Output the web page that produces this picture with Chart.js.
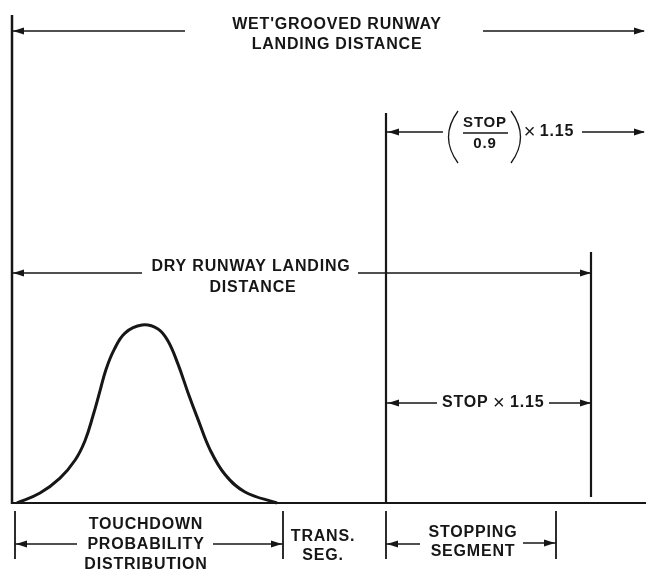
<!DOCTYPE html>
<html>
<head>
<meta charset="utf-8">
<script src="https://cdn.jsdelivr.net/npm/chart.js@4"></script>
<style>
  html, body { margin: 0; padding: 0; background: #fff; }
</style>
</head>
<body>
<canvas id="runway" width="646" height="575"></canvas>
<script>
// Distances measured from the runway threshold (left vertical line)
const curveDist = [5, 28, 48, 63, 73, 81, 88, 94, 102, 113, 130, 146, 156, 166, 176, 186, 198, 213, 233, 265];
const curveProb = [0, 0.056, 0.14, 0.24, 0.35, 0.49, 0.63, 0.75, 0.86, 0.955, 1.0, 0.978, 0.91, 0.78, 0.62, 0.47, 0.30, 0.16, 0.062, 0];

const segmentNames = [['TOUCHDOWN', 'PROBABILITY', 'DISTRIBUTION'], ['TRANS.', 'SEG.'], ['STOPPING', 'SEGMENT']];
const segmentEdges = [3, 271, 374, 544];
const dryRunway = [0, 579];
const wetRunway = [0, 634];
const stopFactored = [374, 579];   // STOP x 1.15
const stopWet = [374, 634];        // (STOP / 0.9) x 1.15

const INK = '#161616';
const FONT = '"Liberation Sans", Arial, sans-serif';

function line(ctx, x1, y1, x2, y2, w) {
    ctx.lineWidth = w;
    ctx.beginPath();
    ctx.moveTo(x1, y1);
    ctx.lineTo(x2, y2);
    ctx.stroke();
}

function head(ctx, x, y, dir) {
    ctx.beginPath();
    ctx.moveTo(x, y);
    ctx.lineTo(x - dir * 11, y - 3.5);
    ctx.lineTo(x - dir * 11, y + 3.5);
    ctx.closePath();
    ctx.fill();
}

function label(ctx, str, x, y, size) {
    ctx.font = 'bold ' + (size || 16) + 'px ' + FONT;
    ctx.fillText(str, x, y);
}

// all the dimension lines and their words
const runwayMarks = {
    id: 'runwayMarks',
    afterDatasetsDraw(chart) {
        const ctx = chart.ctx;
        const xs = chart.scales.x;
        const X = v => xs.getPixelForValue(v);
        ctx.save();
        ctx.strokeStyle = INK;
        ctx.fillStyle = INK;
        ctx.textAlign = 'center';
        ctx.textBaseline = 'middle';
        ctx.letterSpacing = '0.8px';

        // vertical reference lines
        line(ctx, X(wetRunway[0]), 15, X(wetRunway[0]), 504, 2.5);
        line(ctx, X(stopWet[0]), 113, X(stopWet[0]), 503, 2.2);
        line(ctx, X(dryRunway[1]), 252, X(dryRunway[1]), 497, 2.2);

        // wet grooved runway landing distance
        line(ctx, X(wetRunway[0]), 31, 185, 31, 1.4);
        line(ctx, 483, 31, X(wetRunway[1]) - 2, 31, 1.4);
        head(ctx, X(wetRunway[0]) + 1, 31, -1);
        head(ctx, X(wetRunway[1]) - 1, 31, 1);
        label(ctx, "WET'GROOVED RUNWAY", X(325), 25);
        label(ctx, 'LANDING DISTANCE', X(325), 45);

        // (STOP / 0.9) x 1.15
        const yS = 132;
        line(ctx, X(stopWet[0]), yS, 443, yS, 1.4);
        head(ctx, X(stopWet[0]) + 2, yS, -1);
        ctx.lineWidth = 1.3;
        ctx.beginPath();
        ctx.moveTo(458, 111); ctx.quadraticCurveTo(439, 137, 458, 163);
        ctx.moveTo(511, 111); ctx.quadraticCurveTo(530, 137, 511, 163);
        ctx.stroke();
        label(ctx, 'STOP', 485, 123, 15);
        line(ctx, 463, 133, 508, 133, 1.6);
        label(ctx, '0.9', 485, 144, 15);
        ctx.font = '20px ' + FONT;
        ctx.fillText('\u00d7', 530, yS);
        label(ctx, '1.15', 557, yS);
        line(ctx, 582, yS, X(stopWet[1]) - 2, yS, 1.4);
        head(ctx, X(stopWet[1]) - 1, yS, 1);

        // dry runway landing distance
        const yD = 273;
        line(ctx, X(dryRunway[0]), yD, 142, yD, 1.4);
        line(ctx, 358, yD, X(dryRunway[1]), yD, 1.4);
        head(ctx, X(dryRunway[0]) + 1, yD, -1);
        head(ctx, X(dryRunway[1]), yD, 1);
        label(ctx, 'DRY RUNWAY LANDING', 251, 267);
        label(ctx, 'DISTANCE', 253, 288);

        // STOP x 1.15
        const yF = 403;
        line(ctx, X(stopFactored[0]), yF, 437, yF, 1.4);
        head(ctx, X(stopFactored[0]) + 2, yF, -1);
        ctx.textAlign = 'left';
        label(ctx, 'STOP', 442, yF);
        ctx.font = '20px ' + FONT;
        ctx.fillText('\u00d7', 493, yF);
        label(ctx, '1.15', 510, yF);
        ctx.textAlign = 'center';
        line(ctx, 549, yF, X(stopFactored[1]), yF, 1.4);
        head(ctx, X(stopFactored[1]), yF, 1);

        // bottom segments
        segmentEdges.forEach(e => line(ctx, X(e), 511, X(e), 559, 1.8));
        const mids = [X(segmentEdges[0]) + 131, X(segmentEdges[1]) + 40, X(segmentEdges[2]) + 87];
        const rowY = [[525, 545, 565], [537, 556], [533, 552]];
        segmentNames.forEach((rows, i) => {
            rows.forEach((r, j) => label(ctx, r, mids[i], rowY[i][j]));
        });
        const yT = 544;
        line(ctx, X(segmentEdges[0]), yT, 77, yT, 1.4);
        head(ctx, X(segmentEdges[0]) + 1, yT, -1);
        line(ctx, 213, yT, X(segmentEdges[1]), yT, 1.4);
        head(ctx, X(segmentEdges[1]) - 1, yT, 1);
        line(ctx, X(segmentEdges[2]), yT, 420, yT, 1.4);
        head(ctx, X(segmentEdges[2]) + 1, yT, -1);
        line(ctx, 523, 543, X(segmentEdges[3]), 543, 1.4);
        head(ctx, X(segmentEdges[3]) - 1, 543, 1);

        ctx.restore();
    }
};

const ctx = document.getElementById('runway').getContext('2d');
new Chart(ctx, {
    type: 'scatter',
    data: {
        datasets: [{
            // touchdown probability curve
            data: curveDist.map((d, i) => ({ x: d, y: curveProb[i] })),
            showLine: true,
            borderColor: INK,
            borderWidth: 3,
            pointRadius: 0,
            tension: 0.4
        }, {
            // runway surface
            data: [{ x: wetRunway[0], y: 0 }, { x: wetRunway[1], y: 0 }],
            showLine: true,
            borderColor: INK,
            borderWidth: 2,
            pointRadius: 0
        }]
    },
    options: {
        responsive: false,
        animation: false,
        devicePixelRatio: 1,
        layout: { padding: 0 },
        plugins: { legend: { display: false }, tooltip: { enabled: false } },
        scales: {
            x: { type: 'linear', display: false, min: -12, max: 634 },
            y: { type: 'linear', display: false, min: -0.4045, max: 2.8258 }
        }
    },
    plugins: [runwayMarks]
});
</script>
</body>
</html>
